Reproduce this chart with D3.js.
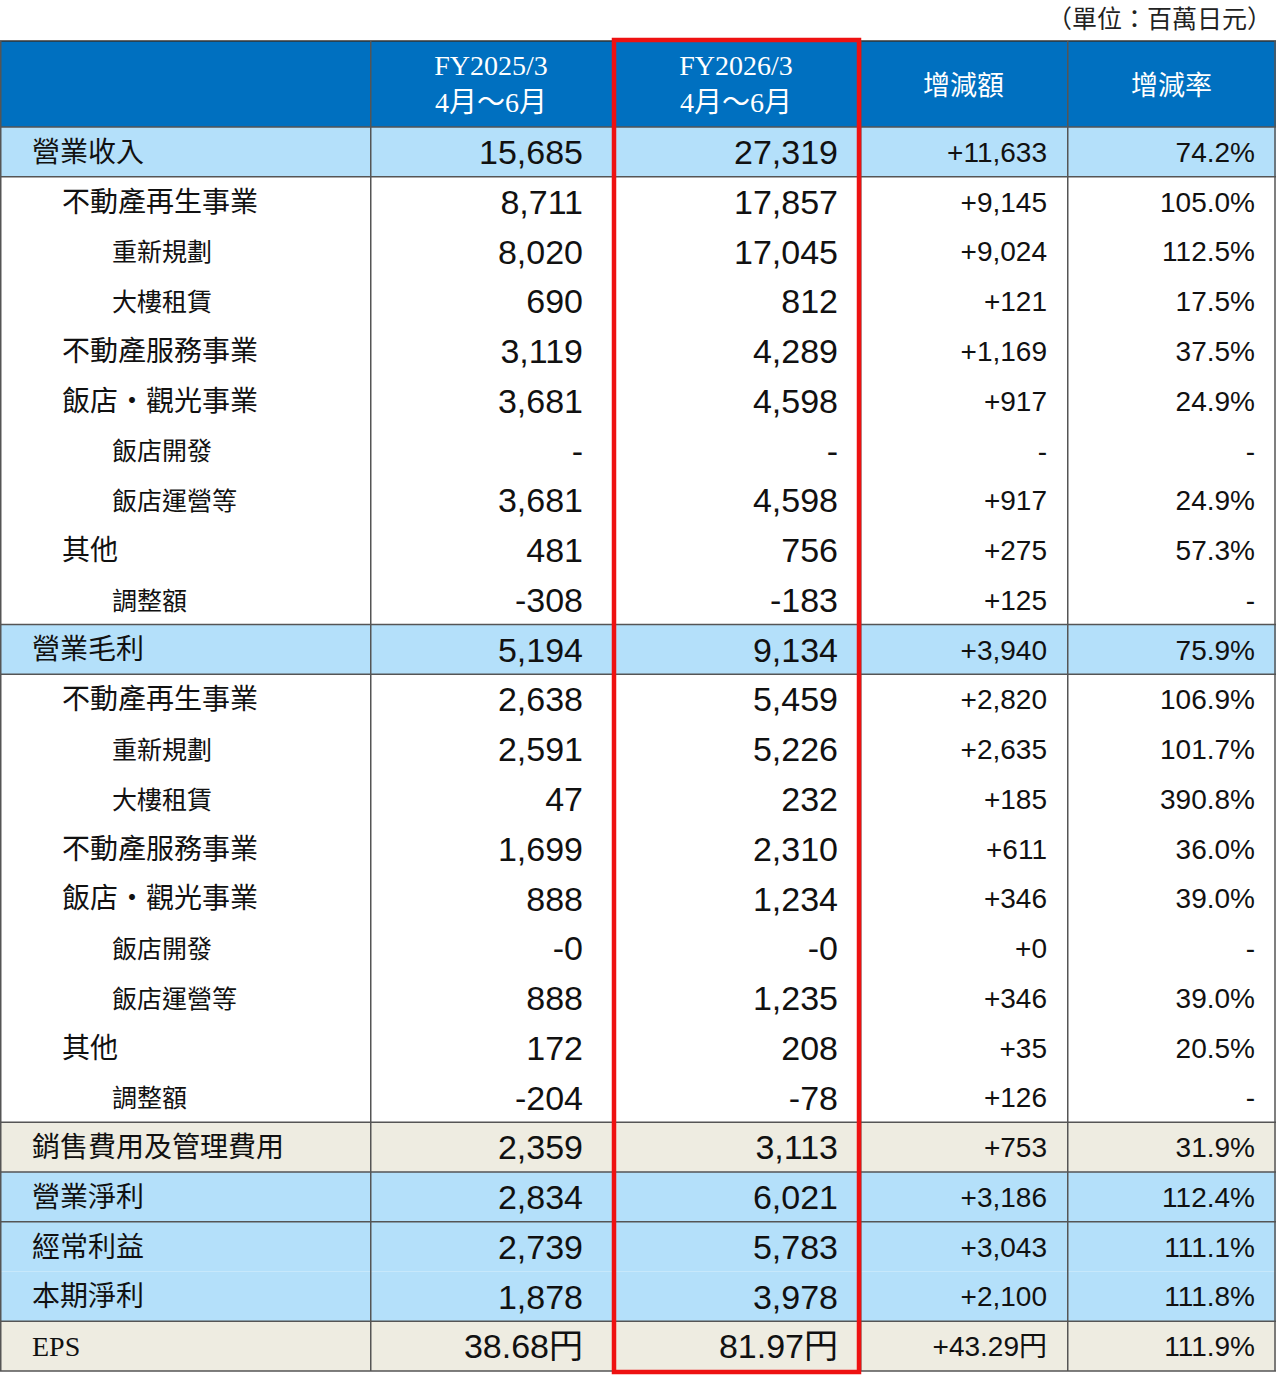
<!DOCTYPE html><html><head><meta charset="utf-8"><script src="https://cdn.jsdelivr.net/npm/d3@7"></script>
<style>body{margin:0;background:#fff}</style></head><body><svg id="c" width="1280" height="1379"></svg>
<script>
const labels=["營業收入","不動產再生事業","重新規劃","大樓租賃","不動產服務事業","飯店・觀光事業","飯店開發","飯店運營等","其他","調整額","營業毛利","不動產再生事業","重新規劃","大樓租賃","不動產服務事業","飯店・觀光事業","飯店開發","飯店運營等","其他","調整額","銷售費用及管理費用","營業淨利","經常利益","本期淨利","EPS"];
const indent=[0,1,2,2,1,1,2,2,1,2,0,1,2,2,1,1,2,2,1,2,0,0,0,0,0];
const rowType=["b","w","w","w","w","w","w","w","w","w","b","w","w","w","w","w","w","w","w","w","g","b","b","b","g"];
const fy2025=["15,685","8,711","8,020","690","3,119","3,681","-","3,681","481","-308","5,194","2,638","2,591","47","1,699","888","-0","888","172","-204","2,359","2,834","2,739","1,878","38.68円"];
const fy2026=["27,319","17,857","17,045","812","4,289","4,598","-","4,598","756","-183","9,134","5,459","5,226","232","2,310","1,234","-0","1,235","208","-78","3,113","6,021","5,783","3,978","81.97円"];
const change=["+11,633","+9,145","+9,024","+121","+1,169","+917","-","+917","+275","+125","+3,940","+2,820","+2,635","+185","+611","+346","+0","+346","+35","+126","+753","+3,186","+3,043","+2,100","+43.29円"];
const rate=["74.2%","105.0%","112.5%","17.5%","37.5%","24.9%","-","24.9%","57.3%","-","75.9%","106.9%","101.7%","390.8%","36.0%","39.0%","-","39.0%","20.5%","-","31.9%","112.4%","111.1%","111.8%","111.9%"];
const colEdges=[0,370,612,860,1067,1276];
const hLines=[0,1,10,11,20,21,22,24,25];

const svg=d3.select("#c");
const y=d3.scaleLinear().domain([0,25]).range([127,1371]);
const fill={b:"#B4E0FA",w:"#ffffff",g:"#EEECE1"};
const sans="'Liberation Sans',Arial,sans-serif", cjk="'Noto Sans CJK TC','Noto Sans CJK JP',sans-serif", serif="'Liberation Serif','Times New Roman',serif";

svg.append("text").attr("x",1272).attr("y",28).attr("text-anchor","end").attr("font-family",cjk).attr("font-size",25).attr("fill","#222").text("（單位：百萬日元）");
svg.append("rect").attr("x",0).attr("y",41).attr("width",1276).attr("height",86).attr("fill","#0070C0");
svg.selectAll("rect.row").data(labels).join("rect").attr("x",0).attr("y",(d,i)=>y(i)).attr("width",1276).attr("height",(d,i)=>y(i+1)-y(i)).attr("fill",(d,i)=>fill[rowType[i]]);

// header
const hdr=[[1,"FY2025/3","4月～6月"],[2,"FY2026/3","4月～6月"]];
hdr.forEach(([c,a,b])=>{const cx=(colEdges[c]+colEdges[c+1])/2;
 svg.append("text").attr("x",cx).attr("y",75).attr("text-anchor","middle").attr("font-family",serif).attr("font-size",28).attr("fill","#fff").text(a);
 svg.append("text").attr("x",cx).attr("y",112).attr("text-anchor","middle").attr("font-family",serif+","+cjk).attr("font-size",28).attr("fill","#fff").text(b);});
[[3,"增減額"],[4,"增減率"]].forEach(([c,t])=>svg.append("text").attr("x",(colEdges[c]+colEdges[c+1])/2).attr("y",95).attr("text-anchor","middle").attr("font-family",cjk).attr("font-size",27).attr("fill","#fff").text(t));

// lines
svg.selectAll("line.h").data(hLines).join("line").attr("x1",0).attr("x2",1276).attr("y1",d=>y(d)).attr("y2",d=>y(d)).attr("stroke","#555").attr("stroke-width",1.5);
svg.append("line").attr("x1",0).attr("x2",1276).attr("y1",41).attr("y2",41).attr("stroke","#333").attr("stroke-width",1.5);
svg.selectAll("line.v").data(colEdges).join("line").attr("x1",d=>d===1276?1275:d+0.75).attr("x2",d=>d===1276?1275:d+0.75).attr("y1",41).attr("y2",1371).attr("stroke","#555").attr("stroke-width",1.5);

// labels
const g=svg.append("g");
g.selectAll("text.l").data(labels).join("text").attr("x",(d,i)=>[32,62,112][indent[i]]).attr("y",(d,i)=>(y(i)+y(i+1))/2+10)
 .attr("font-family",(d)=>d==="EPS"?serif:cjk).attr("font-size",(d,i)=>indent[i]===2?25:28).attr("fill","#111").text(d=>d);
const cols=[[fy2025,583,34],[fy2026,838,34],[change,1047,28],[rate,1255,28]];
cols.forEach(([arr,x,fs])=>g.selectAll(null).data(arr).join("text").attr("x",x).attr("y",(d,i)=>(y(i)+y(i+1))/2+fs*0.36)
 .attr("text-anchor","end").attr("font-family",sans+","+cjk).attr("font-size",fs).attr("fill","#111").text(d=>d));

svg.append("rect").attr("x",614).attr("y",40).attr("width",245).attr("height",1332).attr("fill","none").attr("stroke","#EE1111").attr("stroke-width",4.5);
</script></body></html>
